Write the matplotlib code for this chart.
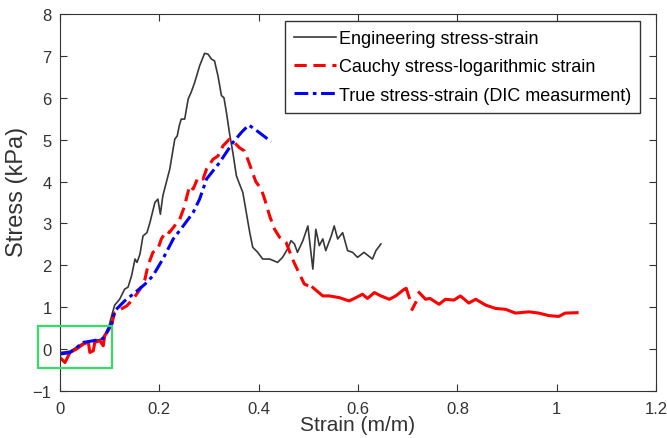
import numpy as np
import matplotlib.pyplot as plt
from matplotlib.patches import Rectangle

plt.rcParams['font.family'] = ['Liberation Sans', 'DejaVu Sans']

# Engineering stress-strain
eng_x = [0.0, 0.02, 0.047, 0.067, 0.084, 0.097, 0.104, 0.110, 0.12, 0.13, 0.137, 0.144,
         0.151, 0.155, 0.161, 0.167, 0.175, 0.181, 0.191, 0.197, 0.202, 0.207, 0.221,
         0.231, 0.236, 0.24, 0.244, 0.251, 0.258, 0.264, 0.271, 0.281, 0.291, 0.298,
         0.305, 0.311, 0.318, 0.325, 0.33, 0.335, 0.341, 0.348, 0.355, 0.36, 0.368,
         0.375, 0.382, 0.388, 0.398, 0.408, 0.422, 0.438, 0.448, 0.458, 0.465, 0.472,
         0.478, 0.489, 0.499, 0.509, 0.515, 0.522, 0.529, 0.535, 0.546, 0.552, 0.559,
         0.569, 0.579, 0.589, 0.599, 0.612, 0.629, 0.636, 0.646]
eng_y = [-0.08, -0.05, 0.15, 0.2, 0.24, 0.48, 0.8, 1.05, 1.19, 1.43, 1.48, 1.75,
         2.15, 2.07, 2.27, 2.70, 2.78, 3.02, 3.50, 3.58, 3.22, 3.66, 4.30,
         5.01, 5.09, 5.33, 5.49, 5.49, 5.97, 6.13, 6.36, 6.76, 7.06, 7.04,
         6.92, 6.88, 6.52, 6.05, 6.0, 5.65, 5.17, 4.69, 4.14, 3.98, 3.74,
         3.26, 2.78, 2.43, 2.31, 2.15, 2.15, 2.07, 2.19, 2.39, 2.59, 2.51,
         2.31, 2.59, 2.94, 1.91, 2.86, 2.47, 2.63, 2.35, 2.70, 2.94, 2.63,
         2.78, 2.35, 2.31, 2.19, 2.31, 2.15, 2.35, 2.51]

# Cauchy stress - logarithmic strain (NaN = gap in the curve)
cau_x = [0.0, 0.01, 0.02, 0.033, 0.047, 0.057, 0.06, 0.067, 0.07, 0.08, 0.087, 0.09,
         0.097, 0.104, 0.110, 0.134, 0.147, 0.161, 0.171, 0.177, 0.187, 0.197, 0.204,
         0.214, 0.22, 0.241, 0.251, 0.254, 0.261, 0.268, 0.278, 0.288, 0.295, 0.308,
         0.318, 0.328, 0.341, 0.351, 0.361, 0.371, 0.378, 0.385, 0.394, 0.405, 0.412,
         0.418, 0.422, 0.432, 0.442, 0.455, 0.468, 0.479, 0.492, 0.509, 0.529, 0.542,
         0.562, 0.582, 0.596, 0.609, 0.619, 0.633, 0.646, 0.663, 0.676, 0.693, 0.697,
         0.703, np.nan, 0.709, 0.716, np.nan, 0.723, 0.736, 0.745, 0.763, 0.776, 0.793,
         0.806, 0.823, 0.837, 0.857, 0.877, 0.897, 0.917, 0.944, 0.964, 0.984, 1.004,
         1.017, 1.041]
cau_y = [-0.2, -0.32, -0.08, 0.0, 0.12, 0.17, -0.08, -0.04, 0.16, 0.2, 0.08, 0.32,
         0.44, 0.60, 0.87, 1.03, 1.19, 1.43, 1.67, 1.99, 2.31, 2.39, 2.63,
         2.82, 2.78, 3.10, 3.42, 3.58, 3.90, 3.82, 4.10, 4.06, 4.30, 4.53,
         4.61, 4.85, 5.01, 4.93, 4.81, 4.73, 4.53, 4.30, 4.0, 3.82, 3.58,
         3.34, 3.18, 2.86, 2.67, 2.55, 2.15, 1.87, 1.55, 1.47, 1.27, 1.27,
         1.23, 1.15, 1.23, 1.31, 1.21, 1.35, 1.27, 1.19, 1.27, 1.43, 1.45,
         1.23, np.nan, 0.95, 1.11, np.nan, 1.35, 1.19, 1.21, 1.07, 1.19, 1.17,
         1.27, 1.10, 1.19, 1.05, 0.97, 0.95, 0.86, 0.89, 0.86, 0.80, 0.78,
         0.86, 0.87]

# True stress-strain (DIC measurement)
dic_x = [0.0, 0.02, 0.047, 0.067, 0.084, 0.09, 0.097, 0.104, 0.11, 0.13, 0.151, 0.171,
         0.187, 0.207, 0.228, 0.248, 0.268, 0.281, 0.295, 0.321, 0.348, 0.365, 0.380,
         0.401, 0.425]
dic_y = [-0.12, -0.08, 0.16, 0.2, 0.24, 0.28, 0.48, 0.60, 0.91, 1.15, 1.35, 1.55,
         1.75, 2.15, 2.63, 2.94, 3.26, 3.58, 4.06, 4.45, 4.93, 5.17, 5.35,
         5.17, 4.95]

fig = plt.figure(figsize=(6.67, 4.39), dpi=100)
ax = fig.add_axes([0.09, 0.107, 0.8936, 0.859])

ax.plot(eng_x, eng_y, color='#383838', linewidth=1.2, label='Engineering stress-strain')

# the dense parts of the red curve render almost solid in the original
cx = np.array(cau_x)
cy = np.array(cau_y)
mid = (cx >= 0.104) & (cx <= 0.509)
ends = (cx <= 0.104) | (cx >= 0.509)
ax.plot(cx, np.where(mid, cy, np.nan), color='red', linestyle=(0, (4, 2.2)), linewidth=2.2,
        label='Cauchy stress-logarithmic strain')
ax.plot(cx, np.where(ends, cy, np.nan), color='red', linewidth=2.2)

ax.plot(dic_x, dic_y, color='blue', linestyle=(0, (4.5, 1.5, 1.2, 1.5)), linewidth=2.2,
        label='True stress-strain (DIC measurment)')

ax.add_patch(Rectangle((-0.044, -0.45), 0.148, 1.0, fill=False, edgecolor='#33dd66',
                       linewidth=1.6, clip_on=False, zorder=5))

ax.set_xlim(0, 1.2)
ax.set_ylim(-1, 8)
ax.set_xticks([0, 0.2, 0.4, 0.6, 0.8, 1, 1.2])
ax.set_xticklabels(['0', '0.2', '0.4', '0.6', '0.8', '1', '1.2'])
ax.set_yticks(range(-1, 9))
ax.tick_params(direction='in', top=True, right=True, labelsize=12, color='#333333',
               labelcolor='#333333', length=5, pad=7)
ax.tick_params(axis='y', pad=6)
for s in ax.spines.values():
    s.set_color('#333333')

ax.set_xlabel('Strain (m/m)', fontsize=15, color='#333333')
ax.set_ylabel('Stress (kPa)', fontsize=17, color='#333333')
ax.xaxis.set_label_coords(0.5, -0.064)
ax.yaxis.set_label_coords(-0.054, 0.53)

leg = ax.legend(loc='upper right', bbox_to_anchor=(0.973, 0.981), fontsize=13,
                fancybox=False, framealpha=1, edgecolor='#333333', handlelength=2.33,
                handletextpad=0.15, borderpad=0.5, labelspacing=0.62, borderaxespad=0)
leg.get_frame().set_linewidth(1.0)

fig.savefig('out.png', dpi=100)
